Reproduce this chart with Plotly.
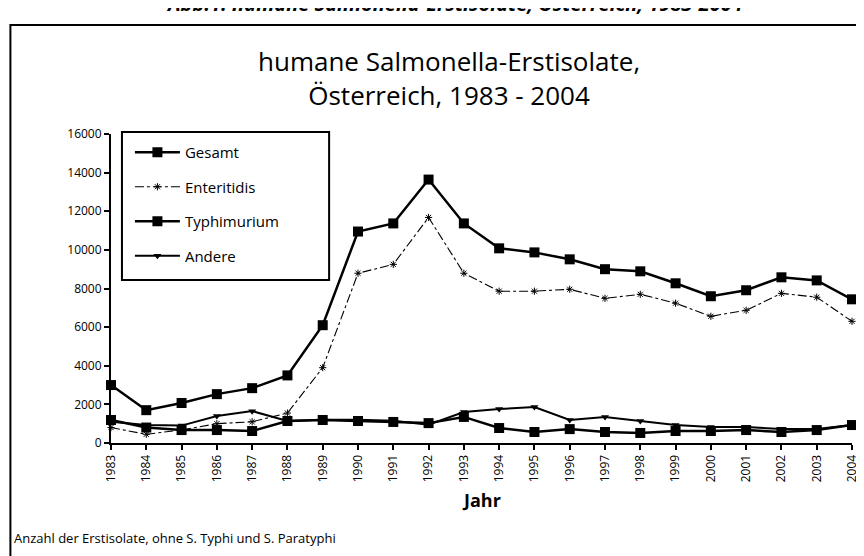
import plotly.graph_objects as go

years = list(range(1983, 2005))
gesamt = [3000, 1700, 2070, 2530, 2840, 3500, 6100, 10950, 11370, 13640, 11370,
          10080, 9870, 9510, 9000, 8890, 8270, 7600, 7910, 8580, 8420, 7440]
enteritidis = [800, 450, 680, 1000, 1100, 1550, 3900, 8790, 9250, 11680, 8790,
               7860, 7860, 7960, 7490, 7700, 7240, 6560, 6870, 7750, 7550, 6300]
typhimurium = [1190, 800, 670, 670, 620, 1140, 1190, 1140, 1090, 1030, 1350,
               775, 570, 720, 570, 520, 620, 620, 670, 570, 670, 930]
andere = [1100, 930, 900, 1400, 1650, 1140, 1200, 1200, 1150, 950, 1600,
          1760, 1860, 1190, 1340, 1140, 930, 830, 830, 720, 720, 930]
y_ticks = [0, 2000, 4000, 6000, 8000, 10000, 12000, 14000, 16000]

W, H = 864, 556
L, R, T, B = 103, 17, 126, 121
FONT = "'Open Sans', Lato, sans-serif"

fig = go.Figure()
fig.add_trace(go.Scatter(x=years, y=gesamt, name="Gesamt", legendgroup="a",
                         mode="lines+markers", cliponaxis=False,
                         line=dict(color="black", width=2.5),
                         marker=dict(symbol="square", size=10, color="black")))
fig.add_trace(go.Scatter(x=years, y=enteritidis, name="Enteritidis", legendgroup="b",
                         mode="lines+markers", cliponaxis=False,
                         line=dict(color="black", width=1.1, dash="dashdot"),
                         marker=dict(symbol="asterisk-open", size=6, color="black",
                                     line=dict(color="black", width=1))))
fig.add_trace(go.Scatter(x=years, y=typhimurium, name="Typhimurium", legendgroup="c",
                         mode="lines+markers", cliponaxis=False,
                         line=dict(color="black", width=2.5),
                         marker=dict(symbol="square", size=10, color="black")))
fig.add_trace(go.Scatter(x=years, y=andere, name="Andere", legendgroup="d",
                         mode="lines+markers", cliponaxis=False,
                         line=dict(color="black", width=2),
                         marker=dict(symbol="triangle-down", size=7, color="black")))

pw = W - L - R
ph = H - T - B
def px_x(p):
    return (p - L) / pw
def px_y(p):
    return (H - B - p) / ph

fig.update_layout(
    width=W, height=H,
    margin=dict(l=L, r=R, t=T, b=B),
    paper_bgcolor="white", plot_bgcolor="white",
    font=dict(family=FONT, color="black", size=12),
    showlegend=True,
    legend=dict(x=px_x(122), y=px_y(128), xanchor="left", yanchor="top",
                bgcolor="rgba(0,0,0,0)", borderwidth=0,
                font=dict(size=15, family=FONT), tracegroupgap=12,
                itemwidth=45),
    xaxis=dict(range=[1983, 2004], tickmode="array", tickvals=years,
               ticktext=[str(y) for y in years], tickangle=-90,
               showline=True, linecolor="black", linewidth=2,
               ticks="outside", ticklen=5, tickcolor="black", tickwidth=1.5,
               showgrid=False, zeroline=False,
               tickfont=dict(size=12, family=FONT)),
    yaxis=dict(range=[0, 16000], tickmode="array", tickvals=y_ticks,
               ticktext=[str(v) for v in y_ticks],
               showline=True, linecolor="black", linewidth=2,
               ticks="outside", ticklen=5, tickcolor="black", tickwidth=1.5,
               showgrid=False, zeroline=False,
               tickfont=dict(size=12, family=FONT)),
)

# legend frame
fig.add_shape(type="rect", xref="paper", yref="paper",
              x0=px_x(114), x1=px_x(322), y0=px_y(272), y1=px_y(124),
              line=dict(color="black", width=2), fillcolor="rgba(0,0,0,0)")

fig.add_annotation(xref="paper", yref="paper", x=px_x(442), y=px_y(70),
                   text="humane Salmonella-Erstisolate,<br>Österreich, 1983 - 2004",
                   showarrow=False, font=dict(size=26, family=FONT),
                   xanchor="center", yanchor="middle")
fig.add_annotation(xref="paper", yref="paper", x=px_x(448), y=px_y(-4),
                   text="<b><i>Abb.1: humane Salmonella-Erstisolate, Österreich, 1983-2004</i></b>",
                   showarrow=False, font=dict(size=20, family=FONT),
                   xanchor="center", yanchor="middle")
fig.add_annotation(xref="paper", yref="paper", x=px_x(475), y=px_y(492),
                   text="<b>Jahr</b>", showarrow=False,
                   font=dict(size=18, family=FONT),
                   xanchor="center", yanchor="middle")
fig.add_annotation(xref="paper", yref="paper", x=px_x(4), y=px_y(530),
                   text="Anzahl der Erstisolate, ohne S. Typhi und S. Paratyphi",
                   showarrow=False, font=dict(size=13, family=FONT),
                   xanchor="left", yanchor="middle")
fig.add_shape(type="rect", xref="paper", yref="paper",
              x0=px_x(2), x1=px_x(863), y0=px_y(580), y1=px_y(17),
              line=dict(color="black", width=2), fillcolor="rgba(0,0,0,0)")

fig.write_html("out.html")
